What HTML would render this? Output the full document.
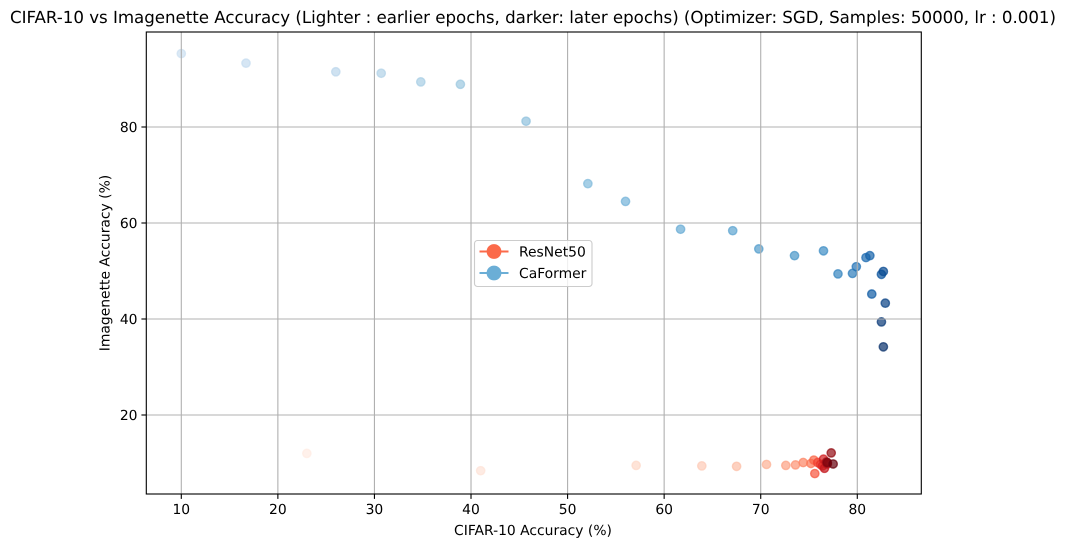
<!DOCTYPE html>
<html>
<head>
<meta charset="utf-8">
<title>CIFAR-10 vs Imagenette Accuracy</title>
<style>
html,body{margin:0;padding:0;background:#fff;}
svg{display:block;font-family:"DejaVu Sans","Liberation Sans",sans-serif;text-rendering:geometricPrecision;}
</style>
</head>
<body>
<svg id="chart" width="1066" height="547" viewBox="0 0 1066 547" xmlns="http://www.w3.org/2000/svg">
<rect x="0" y="0" width="1066" height="547" fill="#ffffff"/>
<text x="533" y="23" font-size="16.67" text-anchor="middle" textLength="1046" fill="#000">CIFAR-10 vs Imagenette Accuracy (Lighter : earlier epochs, darker: later epochs) (Optimizer: SGD, Samples: 50000, lr : 0.001)</text>
<g id="points"></g>
<g id="grid"></g>
<g id="ticks"></g>
<rect x="146.3" y="32" width="775" height="462" fill="none" stroke="#000" stroke-width="1.11"/>
<text x="533" y="535" font-size="13.89" text-anchor="middle" fill="#000">CIFAR-10 Accuracy (%)</text>
<text transform="translate(109.5,263) rotate(-90)" font-size="13.89" text-anchor="middle" fill="#000">Imagenette Accuracy (%)</text>
<g>
<rect x="474.5" y="240.5" width="117.5" height="46" rx="3" ry="3" fill="#ffffff" fill-opacity="0.8" stroke="#cccccc" stroke-width="1.11"/>
<g>
<line x1="479.5" y1="251.5" x2="508.5" y2="251.5" stroke="#fb6a4a" stroke-width="2"/>
<circle cx="494" cy="251.5" r="7.4" fill="#fb6a4a"/>
<text x="519" y="256.5" font-size="13.89" fill="#000">ResNet50</text>
</g>
<g>
<line x1="479.5" y1="273" x2="508.5" y2="273" stroke="#6baed6" stroke-width="2"/>
<circle cx="494" cy="273" r="7.4" fill="#6baed6"/>
<text x="519" y="278" font-size="13.89" fill="#000">CaFormer</text>
</g>
</g>
</svg>
<script>
const xTicks = [10, 20, 30, 40, 50, 60, 70, 80];
const yTicks = [20, 40, 60, 80];
const resnetCifar = [23.0, 41.0, 57.1, 63.9, 67.5, 70.6, 72.6, 73.6, 74.4, 75.2, 75.5, 75.6, 75.9, 76.2, 76.4, 76.5, 76.6, 76.9, 76.8, 77.3, 76.9, 77.5];
const resnetImagenette = [12.0, 8.4, 9.5, 9.4, 9.3, 9.7, 9.5, 9.6, 10.1, 9.9, 10.6, 7.8, 10.1, 9.7, 9.4, 10.8, 8.9, 9.8, 10.2, 12.1, 10.1, 9.8];
const caformerCifar = [10.0, 16.7, 26.0, 30.7, 34.8, 38.9, 45.7, 52.1, 56.0, 61.7, 67.1, 69.8, 73.5, 76.5, 78.0, 79.5, 79.9, 80.9, 81.3, 81.5, 82.5, 82.7, 82.9, 82.5, 82.7];
const caformerImagenette = [95.3, 93.3, 91.5, 91.2, 89.4, 88.9, 81.2, 68.2, 64.5, 58.7, 58.4, 54.6, 53.2, 54.2, 49.4, 49.5, 50.9, 52.8, 53.2, 45.2, 49.3, 49.9, 43.3, 39.4, 34.2];

const NS = 'http://www.w3.org/2000/svg';
const xScale = v => 181.3 + (v - 10) * 9.657;
const yScale = v => 415 - (v - 20) * 4.8;
const redsMap = ['#fff5f0','#fee0d2','#fcbba1','#fc9272','#fb6a4a','#ef3b2c','#cb181d','#a50f15','#67000d'];
const bluesMap = ['#f7fbff','#deebf7','#c6dbef','#9ecae1','#6baed6','#4292c6','#2171b5','#08519c','#08306b'];

function sample(map, t) {
  const p = Math.min(Math.max(t, 0), 1) * (map.length - 1);
  const i = Math.min(Math.floor(p), map.length - 2);
  const f = p - i;
  const a = parseInt(map[i].slice(1), 16), b = parseInt(map[i + 1].slice(1), 16);
  const ch = s => Math.round(((a >> s) & 255) * (1 - f) + ((b >> s) & 255) * f);
  return 'rgb(' + ch(16) + ',' + ch(8) + ',' + ch(0) + ')';
}

function make(tag, attrs, parent) {
  const el = document.createElementNS(NS, tag);
  for (const k in attrs) el.setAttribute(k, attrs[k]);
  parent.appendChild(el);
  return el;
}

function drawSeries(name, xs, ys, map, tStart) {
  const pts = document.getElementById('points');
  xs.forEach((v, i) => {
    const t = tStart + (1 - tStart) * i / (xs.length - 1);
    const c = sample(map, t);
    const dot = make('circle', {cx: xScale(v), cy: yScale(ys[i]), r: 4.17, fill: c, stroke: c, 'stroke-width': 1.39, 'fill-opacity': 0.7, 'stroke-opacity': 0.7}, pts);
    
    
  });
}

drawSeries('resnet50', resnetCifar, resnetImagenette, redsMap, 0.06);
drawSeries('caformer', caformerCifar, caformerImagenette, bluesMap, 0.22);

const grid = document.getElementById('grid');
const ticks = document.getElementById('ticks');
xTicks.forEach(v => {
  const x = xScale(v);
  const g = make('line', {x1: x, x2: x, y1: 32, y2: 494, stroke: '#b0b0b0', 'stroke-width': 1.11}, grid);
  
  
  const m = make('line', {x1: x, x2: x, y1: 494, y2: 498.9, stroke: '#000', 'stroke-width': 1.11}, ticks);
  
  
  const t = make('text', {x: x, y: 514, 'font-size': 13.89, 'text-anchor': 'middle', fill: '#000'}, ticks);
  t.textContent = v;
  
  
});
yTicks.forEach(v => {
  const y = yScale(v);
  const g = make('line', {x1: 146.3, x2: 921.3, y1: y, y2: y, stroke: '#b0b0b0', 'stroke-width': 1.11}, grid);
  
  
  const m = make('line', {x1: 141.4, x2: 146.3, y1: y, y2: y, stroke: '#000', 'stroke-width': 1.11}, ticks);
  
  
  const t = make('text', {x: 137.5, y: y + 5, 'font-size': 13.89, 'text-anchor': 'end', fill: '#000'}, ticks);
  t.textContent = v;
  
  
});
</script>
</body>
</html>
